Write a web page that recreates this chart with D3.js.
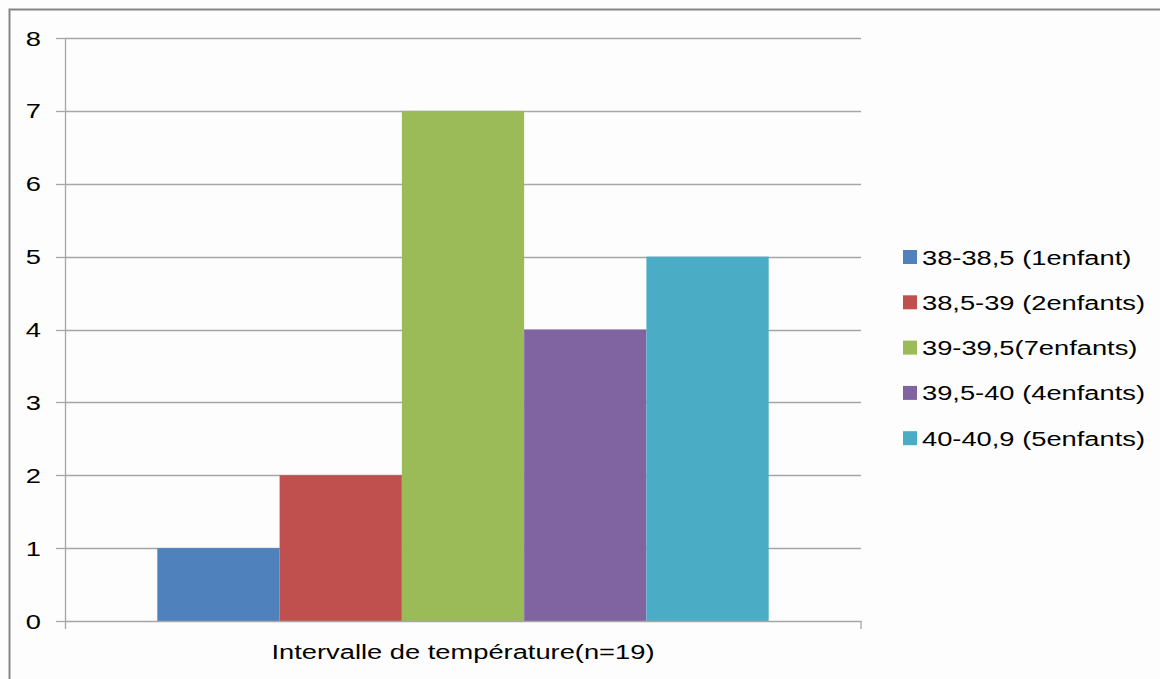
<!DOCTYPE html>
<html>
<head>
<meta charset="utf-8">
<script src="https://cdn.jsdelivr.net/npm/d3@7"></script>
<style>
  html, body { margin: 0; padding: 0; background: #ffffff; }
  svg { display: block; font-family: "Liberation Sans", Arial, sans-serif; }
</style>
</head>
<body>
<svg id="chart" width="1160" height="679"></svg>
<script>
// Temperature intervals and number of children in each
const categories = ["Intervalle de température(n=19)"];
const seriesNames = [
  "38-38,5 (1enfant)",
  "38,5-39 (2enfants)",
  "39-39,5(7enfants)",
  "39,5-40 (4enfants)",
  "40-40,9 (5enfants)"
];
const seriesValues = [1, 2, 7, 4, 5];
const seriesColors = ["#4F81BD", "#C0504D", "#9BBB59", "#8064A2", "#4BACC6"];
const yTicks = [0, 1, 2, 3, 4, 5, 6, 7, 8];

const svg = d3.select("#chart");
const W = 1160, H = 679;
const plot = { left: 65, right: 861, top: 38, bottom: 621 };
const FONT = 21, STRETCH = 1.3;

// outer frame (only top and left edges are visible)
svg.append("rect").attr("x", 0).attr("y", 0).attr("width", W).attr("height", H).attr("fill", "#fdfdfd");
svg.append("path")
  .attr("d", `M9.5,${H + 5} V9.5 H${W + 5}`)
  .attr("fill", "none").attr("stroke", "#868686").attr("stroke-width", 2);

const y = d3.scaleLinear().domain([0, 8]).range([plot.bottom, plot.top]);
const x0 = d3.scaleBand().domain(categories).range([plot.left, plot.right]).padding(0);
const x1 = d3.scaleBand().domain(seriesNames).range([0, x0.bandwidth()])
  .paddingInner(0).paddingOuter(0.755);

// helper: horizontally widened text
function label(g, txt, x, yPos, anchor) {
  return g.append("text")
    .attr("transform", `translate(${x},${yPos}) scale(${STRETCH},1)`)
    .attr("text-anchor", anchor)
    .attr("font-size", FONT)
    .attr("fill", "#000")
    .text(txt);
}

// horizontal gridlines
svg.append("g").selectAll("line").data(yTicks.filter(d => d > 0)).join("line")
  .attr("x1", plot.left).attr("x2", plot.right)
  .attr("y1", d => Math.round(y(d)) + 0.5).attr("y2", d => Math.round(y(d)) + 0.5)
  .attr("stroke", "#a6a6a6").attr("stroke-width", 1.3);

// bars
const g = svg.append("g").attr("transform", `translate(${x0(categories[0])},0)`);
g.selectAll("rect").data(seriesNames).join("rect")
  .attr("x", d => x1(d))
  .attr("width", x1.bandwidth())
  .attr("y", (d, i) => y(seriesValues[i]))
  .attr("height", (d, i) => y(0) - y(seriesValues[i]))
  .attr("fill", (d, i) => seriesColors[i]);

// value axis
const yAxis = svg.append("g");
yAxis.append("line")
  .attr("x1", plot.left + 0.5).attr("x2", plot.left + 0.5)
  .attr("y1", plot.top).attr("y2", plot.bottom + 8)
  .attr("stroke", "#a6a6a6").attr("stroke-width", 1.3);
yAxis.selectAll("line.tick").data(yTicks).join("line").attr("class", "tick")
  .attr("x1", plot.left - 9).attr("x2", plot.left)
  .attr("y1", d => Math.round(y(d)) + 0.5).attr("y2", d => Math.round(y(d)) + 0.5)
  .attr("stroke", "#a6a6a6").attr("stroke-width", 1.3);
yTicks.forEach(t => label(yAxis, String(t), 41, y(t) + 7.5, "end"));

// category axis
const xAxis = svg.append("g");
xAxis.append("line")
  .attr("x1", plot.left).attr("x2", plot.right + 0.5)
  .attr("y1", plot.bottom + 0.5).attr("y2", plot.bottom + 0.5)
  .attr("stroke", "#a6a6a6").attr("stroke-width", 1.3);
xAxis.append("line")
  .attr("x1", plot.right).attr("x2", plot.right)
  .attr("y1", plot.bottom).attr("y2", plot.bottom + 8)
  .attr("stroke", "#a6a6a6").attr("stroke-width", 1.3);
categories.forEach(c => label(xAxis, c, x0(c) + x0.bandwidth() / 2, 659, "middle"));

// legend
const legend = svg.append("g");
seriesNames.forEach((name, i) => {
  const cy = 257 + i * 45.3;
  legend.append("rect")
    .attr("x", 903).attr("y", cy - 7).attr("width", 14).attr("height", 14)
    .attr("fill", seriesColors[i]);
  label(legend, name, 922, cy + 7.5, "start");
});
</script>
</body>
</html>
